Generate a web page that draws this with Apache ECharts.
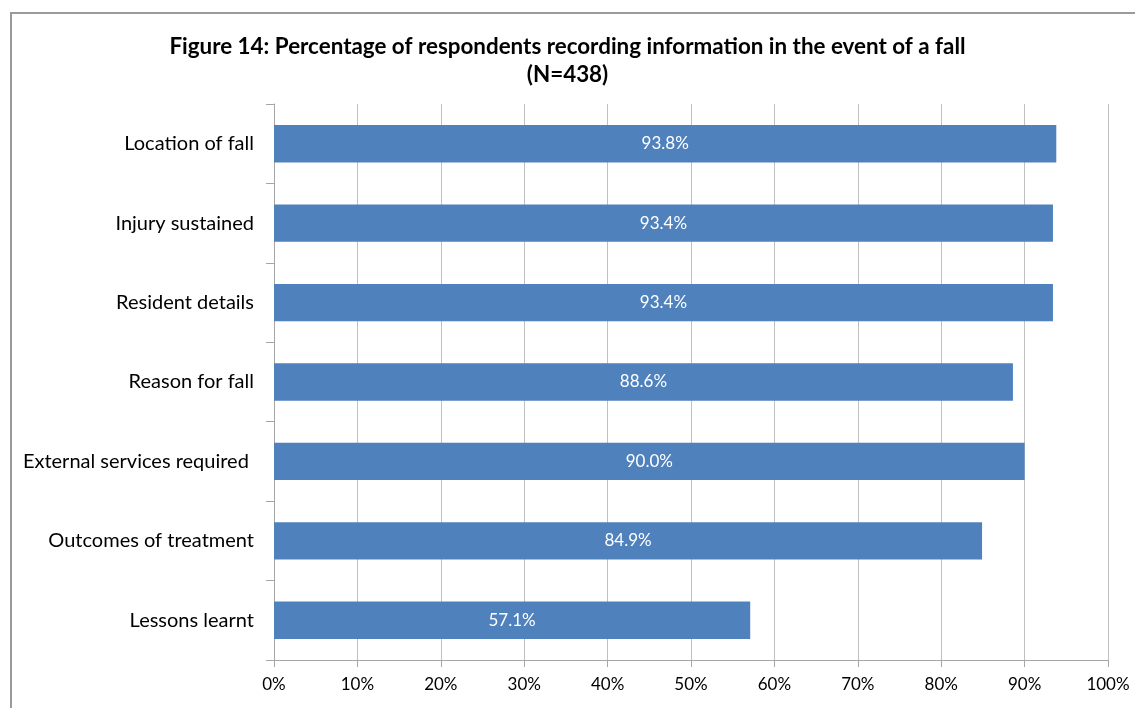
<!DOCTYPE html>
<html>
<head>
<meta charset="utf-8">
<script src="https://cdn.jsdelivr.net/npm/echarts@6/dist/echarts.min.js"></script>
<style>
  html, body { margin: 0; padding: 0; background: #fff; }
  #main { width: 1135px; height: 708px; }
</style>
</head>
<body>
<div id="main"></div>
<script>
// categories, top to bottom as shown
var categories = [
    'Location of fall',
    'Injury sustained',
    'Resident details',
    'Reason for fall',
    'External services required ',
    'Outcomes of treatment',
    'Lessons learnt'
];
// percentage of respondents
var percentValues = [93.8, 93.4, 93.4, 88.6, 90.0, 84.9, 57.1];
var xTicks = [0, 10, 20, 30, 40, 50, 60, 70, 80, 90, 100];

var chart = echarts.init(document.getElementById('main'));
var fontName = 'Lato';

var option = {
    animation: false,
    title: {
        text: 'Figure 14: Percentage of respondents recording information in the event of a fall\n(N=438)',
        left: 'center',
        top: 28,
        textStyle: {
            fontFamily: fontName,
            fontWeight: 'bold',
            fontSize: 22.4,
            lineHeight: 28,
            color: '#000'
        }
    },
    // chart frame (only top and left edges visible in the picture)
    graphic: [{
        type: 'rect',
        shape: { x: 11, y: 13, width: 1300, height: 900 },
        style: { fill: null, stroke: '#9a9a9a', lineWidth: 2 },
        silent: true
    }],
    grid: {
        left: 274,
        right: 27,
        top: 104,
        bottom: 48,
        containLabel: false
    },
    xAxis: {
        type: 'value',
        min: xTicks[0],
        max: xTicks[xTicks.length - 1],
        interval: xTicks[1] - xTicks[0],
        axisLine: { show: true, lineStyle: { color: '#a6a6a6' } },
        axisTick: { show: true, length: 7, lineStyle: { color: '#a6a6a6' } },
        splitLine: { show: true, lineStyle: { color: '#c0c0c0' } },
        axisLabel: {
            formatter: '{value}%',
            fontFamily: fontName,
            fontSize: 17,
            color: '#000',
            margin: 16
        }
    },
    yAxis: {
        type: 'category',
        inverse: true,
        data: categories,
        axisLine: { show: true, lineStyle: { color: '#a6a6a6' } },
        axisTick: { show: true, length: 8, lineStyle: { color: '#a6a6a6' } },
        axisLabel: {
            fontFamily: fontName,
            fontSize: 20,
            color: '#000',
            margin: 20
        }
    },
    series: [{
        type: 'bar',
        data: percentValues,
        barWidth: '47%',
        itemStyle: { color: '#4F81BD' },
        label: {
            show: true,
            position: 'inside',
            formatter: function (p) { return p.value.toFixed(1) + '%'; },
            fontFamily: fontName,
            fontSize: 17,
            color: '#fff'
        }
    }]
};

chart.setOption(option);
</script>
</body>
</html>
